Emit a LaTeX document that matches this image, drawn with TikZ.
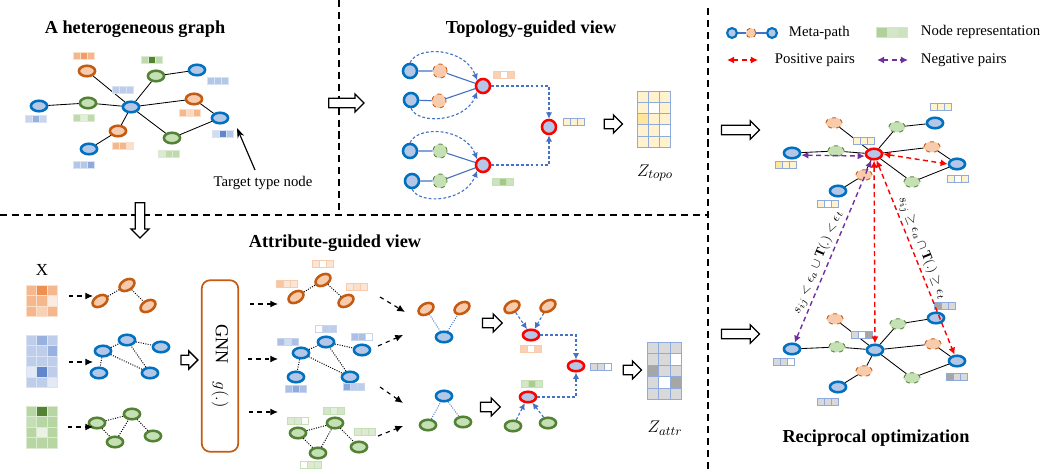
\documentclass[tikz,border=0pt]{standalone}
\usepackage{fontspec}
\setmainfont{Liberation Serif}
\usepackage{amsmath}
\usetikzlibrary{arrows.meta, shapes.geometric, shapes.arrows}

\definecolor{hblue}{HTML}{0070C0}
\definecolor{hbluel}{HTML}{B4C7E7}
\definecolor{horange}{HTML}{C55A11}
\definecolor{horangel}{HTML}{F8CBAD}
\definecolor{hgreen}{HTML}{548235}
\definecolor{hgreenl}{HTML}{C5E0B4}
\definecolor{hred}{HTML}{FF0000}
\definecolor{hpurple}{HTML}{7030A0}
\definecolor{lnblue}{HTML}{4472C4}
\definecolor{fblue}{HTML}{4472C4}
\definecolor{forange}{HTML}{ED7D31}
\definecolor{fgreen}{HTML}{70AD47}
\definecolor{zyl}{HTML}{FFF2CC}
\definecolor{zyd}{HTML}{FFE699}
\definecolor{zgl}{HTML}{D9D9D9}
\definecolor{zgd}{HTML}{A6A6A6}
\definecolor{gridblue}{HTML}{8FAADC}

\tikzset{
  nd/.style={ellipse, line width=1.8pt, minimum width=11.5pt, minimum height=7.5pt, inner sep=0pt},
  bnode/.style={nd, draw=hblue, fill=hbluel},
  onode/.style={nd, draw=horange, fill=horangel},
  gnode/.style={nd, draw=hgreen, fill=hgreenl},
  rnode/.style={nd, draw=hred, fill=hbluel},
  dnd/.style={ellipse, dashed, line width=0.6pt, minimum width=11.5pt, minimum height=7.5pt, inner sep=0pt},
  odnode/.style={dnd, draw=horange, fill=horangel},
  gdnode/.style={dnd, draw=hgreen, fill=hgreenl},
  tc/.style={circle, line width=1.8pt, minimum size=10pt, inner sep=0pt},
  tbnode/.style={tc, draw=hblue, fill=hbluel},
  trnode/.style={tc, draw=hred, fill=hbluel},
  todnode/.style={circle, dashed, line width=0.6pt, minimum size=10pt, inner sep=0pt, draw=horange, fill=horangel},
  tgdnode/.style={circle, dashed, line width=0.6pt, minimum size=10pt, inner sep=0pt, draw=hgreen, fill=hgreenl},
  lnk/.style={line width=0.6pt},
  dotlnk/.style={densely dotted, line width=0.7pt},
  bline/.style={lnblue, line width=0.8pt},
  bdots/.style={lnblue, line width=0.7pt, densely dotted},
  bdash/.style={lnblue, line width=0.8pt, dash pattern=on 2pt off 1.5pt, -{Latex[length=4.5pt,width=4.5pt]}},
  darr/.style={dashed, line width=0.8pt, -{Latex[length=5.5pt,width=5pt]}},
  pospair/.style={hred, line width=1pt, dash pattern=on 3.5pt off 2.5pt, {Latex[length=5pt,width=5pt]}-{Latex[length=5pt,width=5pt]}},
  negpair/.style={hpurple, line width=1pt, dash pattern=on 3.5pt off 2.5pt, {Latex[length=5pt,width=5pt]}-{Latex[length=5pt,width=5pt]}},
  harrow/.style={single arrow, draw, line width=0.9pt, fill=white, minimum width=12pt, single arrow head extend=3pt, inner sep=3pt},
  divider/.style={line width=1.2pt, dash pattern=on 5pt off 3.5pt},
  ttl/.style={font=\fontsize{13}{15}\selectfont\bfseries},
  pairlbl/.style={above, sloped, inner sep=1.5pt, text=black, font=\fontsize{9.5}{11}\selectfont},
  pics/fbar/.style n args={4}{code={
    \foreach \fc [count=\fk from 0] in {#2,#3,#4}
      \filldraw[fill=\fc, draw=#1, line width=0.6pt] (-10.5+7*\fk,-3.5) rectangle ++(7,7);
  }},
  pics/cellgrid/.style n args={3}{code={
    \foreach \fc [count=\fk from 0] in {#3} {
      \pgfmathtruncatemacro\cellrow{div(\fk,3)}
      \pgfmathtruncatemacro\cellcol{mod(\fk,3)}
      \filldraw[fill=\fc, draw=#2, line width=0.7pt] (\cellcol*#1,\cellrow*#1) rectangle ++(#1,#1);
    }
  }},
}

\begin{document}
\begin{tikzpicture}[x=0.025cm, y=-0.025cm, font=\fontsize{10.5}{12.6}\selectfont]
\useasboundingbox (0,0) rectangle (1050,473);

% panels
\draw[divider] (339,0) -- (339,215);
\draw[divider] (0,215) -- (708,215);
\draw[divider] (708,8) -- (708,473);

% heterogeneous graph
\node[ttl] (httl) at (135,29) {A heterogeneous graph};
\node[onode] (ha) at (87,71) {};
\node[gnode] (hb) at (156,76) {};
\node[bnode] (hc) at (197,70) {};
\node[bnode] (hd) at (39,106) {};
\node[gnode] (he) at (88,103) {};
\node[bnode] (hf) at (131,107) {};
\node[onode] (hg) at (194,99) {};
\node[bnode] (hh) at (220,118) {};
\node[onode] (hi) at (118,131) {};
\node[bnode] (hj) at (89,149) {};
\node[gnode] (hk) at (172,138) {};
\draw[lnk] (ha) -- (hf) (hb) -- (hf) (hb) -- (hc) (hd) -- (he) -- (hf) -- (hg) -- (hh)
  (hf) -- (hi) -- (hj) (hf) -- (hk) -- (hh);
\pic at (84,56) {fbar={forange!25}{forange!55}{forange!75}{forange!55}};
\pic at (152,60) {fbar={fgreen!25}{fgreen!45}{hgreen}{fgreen!45}};
\pic at (218,81) {fbar={fblue!20}{fblue!40}{fblue!40}{fblue!40}};
\pic at (36,119) {fbar={fblue!20}{fblue!30}{fblue!55}{fblue!30}};
\pic at (84,118) {fbar={fgreen!25}{fgreen!45}{fgreen!20}{fgreen!45}};
\pic at (123,90) {fbar={fblue!20}{fblue!35}{fblue!35}{fblue!35}};
\pic at (190,113) {fbar={forange!25}{forange!55}{forange!30}{forange!55}};
\pic at (223,134) {fbar={fblue!20}{fblue!25}{fblue!85}{fblue!40}};
\pic at (123,146) {fbar={forange!25}{forange!55}{forange!55}{forange!25}};
\pic at (84,165) {fbar={fblue!20}{fblue!40}{fblue!40}{fblue!60}};
\pic at (169,154) {fbar={fgreen!25}{fgreen!25}{fgreen!45}{fgreen!45}};
\node (tgt) at (263,183) {Target type node};
\coordinate (tgttail) at (255,170);
\coordinate (tgttip) at (237,128);
\draw[line width=0.8pt, -{Stealth[length=7pt,width=5pt]}] (tgttail) -- (tgttip);

% topology-guided view
\node[ttl] (tttl) at (531,29) {Topology-guided view};
\node[tbnode] (t1) at (410,71) {};
\node[todnode] (t2) at (440,71) {};
\node[trnode] (r1) at (483,86) {};
\node[tbnode] (t3) at (411,100) {};
\node[todnode] (t4) at (439,101) {};
\node[tbnode] (t5) at (410,151) {};
\node[tgdnode] (t6) at (440,151) {};
\node[trnode] (r2) at (483,165) {};
\node[tbnode] (t7) at (412,181) {};
\node[tgdnode] (t8) at (440,181) {};
\node[trnode] (r3) at (549,127) {};
\draw[bline] (t1) -- (t2) -- (r1) (t3) -- (t4) -- (r1) (t5) -- (t6) -- (r2) (t7) -- (t8) -- (r2);
\draw[bdash] (t1.north) .. controls (418,45) and (465,48) .. (r1.north west);
\draw[bdash] (t3.south) .. controls (418,125) and (465,122) .. (r1.south west);
\draw[bdash] (t5.north) .. controls (418,125) and (465,128) .. (r2.north west);
\draw[bdash] (t7.south) .. controls (420,205) and (465,202) .. (r2.south west);
\draw[bdash] (r1.east) -| (r3.north);
\draw[bdash] (r2.east) -| (r3.south);
\pic at (504,75) {fbar={horangel}{forange!35}{white}{forange!35}};
\pic at (503,182) {fbar={hgreenl}{fgreen!35}{fgreen!65}{fgreen!35}};
\pic at (574,122) {fbar={gridblue}{zyl}{zyl}{zyl}};
\node[harrow, minimum height=13pt] (flow3) at (611,124) {};
\pic at (637,91) {cellgrid={11.3}{gridblue}{zyl,zyl,zyl,zyl,white,zyl,zyd,zyl,zyl,zyl,zyl,white,zyl,zyl,zyl}};
\node[font=\fontsize{13}{15}\selectfont] (ztopo) at (655,173) {$Z_{topo}$};

\node[harrow, minimum height=25pt] (flow1) at (344,103) {};
\node[harrow, minimum height=25pt, shape border rotate=270] (flow2) at (140,218) {};

% legend
\node[tbnode, minimum size=7pt, line width=1.5pt] (lg1) at (732,33) {};
\node[todnode, minimum size=7pt] (lg2) at (751,33) {};
\node[tbnode, minimum size=7pt, line width=1.5pt] (lg3) at (772,33) {};
\draw[bline] (lg1) -- (lg2) -- (lg3);
\node[anchor=west] (lgt1) at (784,33) {Meta-path};
\pic[scale=1.45] at (892,32) {fbar={fgreen!30}{fgreen!55}{fgreen!30}{fgreen!35}};
\node[anchor=west] (lgt2) at (916,32) {Node representation};
\coordinate (pp1) at (727,60);
\coordinate (pp2) at (758,60);
\draw[pospair] (pp1) -- (pp2);
\node[anchor=west] (lgt3) at (770,60) {Positive pairs};
\coordinate (np1) at (877,60);
\coordinate (np2) at (908,60);
\draw[negpair] (np1) -- (np2);
\node[anchor=west] (lgt4) at (916,60) {Negative pairs};

% reciprocal optimization, upper graph
\node[harrow, minimum height=27pt] (flow4) at (738,130) {};
\node[odnode] (u1) at (834,123) {};
\node[bnode] (u2) at (935,123) {};
\node[gdnode] (u3) at (897,127) {};
\node[bnode] (u4) at (792,153) {};
\node[gdnode] (u5) at (836,151) {};
\node[rnode] (u6) at (874,154) {};
\node[odnode] (u7) at (932,147) {};
\node[bnode] (u8) at (957,164) {};
\node[odnode] (u9) at (864,175) {};
\node[gdnode] (u10) at (912,182) {};
\node[bnode] (u11) at (838,191) {};
\draw[lnk] (u1) -- (u6) (u2) -- (u3) -- (u6) (u4) -- (u5) -- (u6) -- (u7) -- (u8)
  (u6) -- (u10) -- (u8) (u6) -- (u9) -- (u11);
\pic at (941,107) {fbar={gridblue}{zyl}{zyl}{zyl}};
\pic at (864,141) {fbar={gridblue}{zyl}{zyl}{zyl}};
\pic at (786,165) {fbar={gridblue}{zyd}{zyl}{zyl}};
\pic at (958,179) {fbar={gridblue}{zyl}{white}{zyl}};
\pic at (828,204) {fbar={gridblue}{zyl}{white}{zyl}};

% reciprocal optimization, lower graph
\node[harrow, minimum height=27pt] (flow5) at (738,334) {};
\node[odnode] (l1) at (835,319) {};
\node[bnode] (l2) at (936,318) {};
\node[gdnode] (l3) at (898,324) {};
\node[bnode] (l4) at (792,349) {};
\node[gdnode] (l5) at (837,347) {};
\node[bnode] (l6) at (875,350) {};
\node[odnode] (l7) at (933,344) {};
\node[bnode] (l8) at (957,361) {};
\node[odnode] (l9) at (864,371) {};
\node[gdnode] (l10) at (912,378) {};
\node[bnode] (l11) at (838,387) {};
\draw[lnk] (l1) -- (l6) (l2) -- (l3) -- (l6) (l4) -- (l5) -- (l6) -- (l7) -- (l8)
  (l6) -- (l10) -- (l8) (l6) -- (l9) -- (l11);
\pic at (945,306) {fbar={gridblue}{zgd}{zgl}{zgl}};
\pic at (862,335) {fbar={gridblue}{zgl}{white}{zgd}};
\pic at (784,362) {fbar={gridblue}{zgl}{zgl}{white}};
\pic at (957,377) {fbar={gridblue}{zgd}{zgl}{zgl}};
\pic at (828,402) {fbar={gridblue}{zgl}{zgl}{zgl}};

\draw[negpair] ([yshift=-1.5pt]u4.east) -- ([yshift=-1.5pt]u6.west);
\draw[pospair] (u6.east) -- (u8.west);
\draw[negpair] (l4) -- node[pairlbl, pos=0.42] {$s_{ij} < \epsilon_a \cup \mathbf{T}(.) < \epsilon_t$} (u6);
\draw[pospair] (u6) -- (l6);
\draw[pospair] (u6) -- node[pairlbl, pos=0.47] {$s_{ij} \geq \epsilon_a \cap \mathbf{T}(.) \geq \epsilon_t$} (l8);
\node[ttl] (rttl) at (876,438) {Reciprocal optimization};

% attribute-guided view
\node[ttl] (attl) at (335,243) {Attribute-guided view};
\node[font=\fontsize{12}{14}\selectfont] (xlab) at (42,270) {X};
\pic at (26,285) {cellgrid={10.5}{forange!25}{forange!55,forange!85,forange!55,forange!55,forange!55,forange!15,forange!55,forange!35,forange!55}};
\pic at (26,335) {cellgrid={10.5}{fblue!20}{fblue!35,fblue!55,fblue!35,fblue!35,fblue!35,fblue!55,fblue!35,fblue!35,fblue!35,fblue!15,fblue!85,fblue!35,fblue!35,fblue!35,fblue!15}};
\pic at (26,406) {cellgrid={10.5}{fgreen!25}{fgreen!50,hgreen,fgreen!50,fgreen!40,fgreen!50,fgreen!50,fgreen!50,fgreen!15,fgreen!50,fgreen!50,fgreen!50,fgreen!50}};

\node[onode, rotate=30] (ao1) at (100,301) {};
\node[onode, rotate=30] (ao2) at (127,285) {};
\node[onode, rotate=30] (ao3) at (148,306) {};
\draw[dotlnk] (ao1) -- (ao2) -- (ao3);
\node[bnode] (ab1) at (103,351) {};
\node[bnode] (ab2) at (127,340) {};
\node[bnode] (ab3) at (161,347) {};
\node[bnode] (ab4) at (99,373) {};
\node[bnode] (ab5) at (150,373) {};
\draw[dotlnk] (ab1) -- (ab2) -- (ab3) (ab1) -- (ab4) (ab1) -- (ab5) -- (ab2);
\node[gnode] (ag1) at (97,423) {};
\node[gnode] (ag2) at (132,414) {};
\node[gnode] (ag3) at (115,442) {};
\node[gnode] (ag4) at (153,436) {};
\draw[dotlnk] (ag1) -- (ag2) -- (ag4) (ag1) -- (ag3) -- (ag2);

\node[harrow, minimum height=12pt] (flow6) at (187,360) {};
\node[draw=horange, line width=1.2pt, rounded corners=6pt, rotate=-90, minimum width=122pt,
  minimum height=26pt, font=\fontsize{13}{15}\selectfont] (gnn) at (220,366) {GNN\quad $g(.)$};

\node[onode, rotate=30] (co1) at (296,297) {};
\node[onode, rotate=30] (co2) at (323,280) {};
\node[onode, rotate=30] (co3) at (346,301) {};
\draw[dotlnk] (co1) -- (co2) -- (co3);
\pic at (323,264) {fbar={horangel}{forange!20}{white}{forange!20}};
\pic at (287,284) {fbar={horangel}{forange!45}{forange!20}{forange!20}};
\pic at (357,287) {fbar={horangel}{forange!20}{forange!25}{forange!20}};
\node[bnode] (cb1) at (301,353) {};
\node[bnode] (cb2) at (326,342) {};
\node[bnode] (cb3) at (362,350) {};
\node[bnode] (cb4) at (296,377) {};
\node[bnode] (cb5) at (350,377) {};
\draw[dotlnk] (cb1) -- (cb2) -- (cb3) (cb1) -- (cb4) (cb1) -- (cb5) -- (cb2);
\pic at (326,329) {fbar={fblue!30}{white}{fblue!35}{fblue!35}};
\pic at (288,342) {fbar={fblue!30}{fblue!45}{fblue!25}{fblue!45}};
\pic at (362,337) {fbar={fblue!30}{fblue!45}{fblue!45}{white}};
\pic at (296,389) {fbar={fblue!30}{fblue!45}{fblue!60}{fblue!45}};
\pic at (354,387) {fbar={fblue!30}{fblue!60}{fblue!35}{fblue!35}};
\node[gnode] (cg1) at (298,433) {};
\node[gnode] (cg2) at (335,423) {};
\node[gnode] (cg3) at (318,453) {};
\node[gnode] (cg4) at (359,447) {};
\draw[dotlnk] (cg1) -- (cg2) -- (cg4) (cg1) -- (cg3) -- (cg2);
\pic at (334,411) {fbar={hgreenl}{fgreen!30}{fgreen!20}{fgreen!30}};
\pic at (298,421) {fbar={hgreenl}{fgreen!25}{fgreen!25}{white}};
\pic at (365,432) {fbar={hgreenl}{fgreen!25}{fgreen!25}{fgreen!25}};
\pic at (311,465) {fbar={hgreenl}{white}{fgreen!25}{fgreen!25}};

\node[onode, rotate=30] (do1) at (426,309) {};
\node[onode, rotate=30] (do2) at (462,308) {};
\node[bnode] (db1) at (444,337) {};
\draw[bdots] (do1) -- (db1) -- (do2);
\node[bnode] (db2) at (444,396) {};
\node[gnode] (dg1) at (428,425) {};
\node[gnode] (dg2) at (463,422) {};
\draw[bdots] (dg1) -- (db2) -- (dg2);

\node[harrow, minimum height=14pt] (flow7) at (490,323) {};
\node[harrow, minimum height=14pt] (flow8) at (488,407) {};

\node[onode, rotate=30] (eo1) at (512,307) {};
\node[onode, rotate=30] (eo2) at (548,306) {};
\node[rnode] (er1) at (531,335) {};
\draw[bdash] (eo1) -- (er1);
\draw[bdash] (eo2) -- (er1);
\pic at (531,349) {fbar={horangel}{forange!35}{white}{forange!35}};
\node[rnode] (er2) at (528,397) {};
\node[gnode] (eg1) at (513,426) {};
\node[gnode] (eg2) at (548,423) {};
\draw[bdash] (eg1) -- (er2);
\draw[bdash] (eg2) -- (er2);
\pic at (532,384) {fbar={hgreenl}{fgreen!30}{fgreen!60}{fgreen!30}};
\node[rnode] (er3) at (576,366) {};
\draw[bdash] (er1.east) -| (er3.north);
\draw[bdash] (er2.east) -| (er3.south);
\pic at (601,367) {fbar={gridblue}{zgl}{zgl}{white}};
\node[harrow, minimum height=13pt] (flow9) at (630,370) {};
\pic at (647,342) {cellgrid={11.5}{gridblue}{zgl,zgl,zgl,zgl,zgl,white,zgd,zgl,zgl,zgl,white,zgd,zgl,zgl,zgl}};
\node[font=\fontsize{13}{15}\selectfont] (zattr) at (665,428) {$Z_{attr}$};

\foreach \an/\ax/\ay/\bx/\by in {x1/69/296/93/296, x2/69/362/93/362, x3/68/427/93/427,
    g1/250/304/278/304, g2/248/359/278/359, g3/249/412/278/412,
    m1/380/297/405/312, m2/378/346/403/335, m3/380/387/403/403, m4/378/436/403/426} {
  \coordinate (\an s) at (\ax,\ay);
  \coordinate (\an e) at (\bx,\by);
  \draw[darr] (\an s) -- (\an e);
}
\end{tikzpicture}
\end{document}
